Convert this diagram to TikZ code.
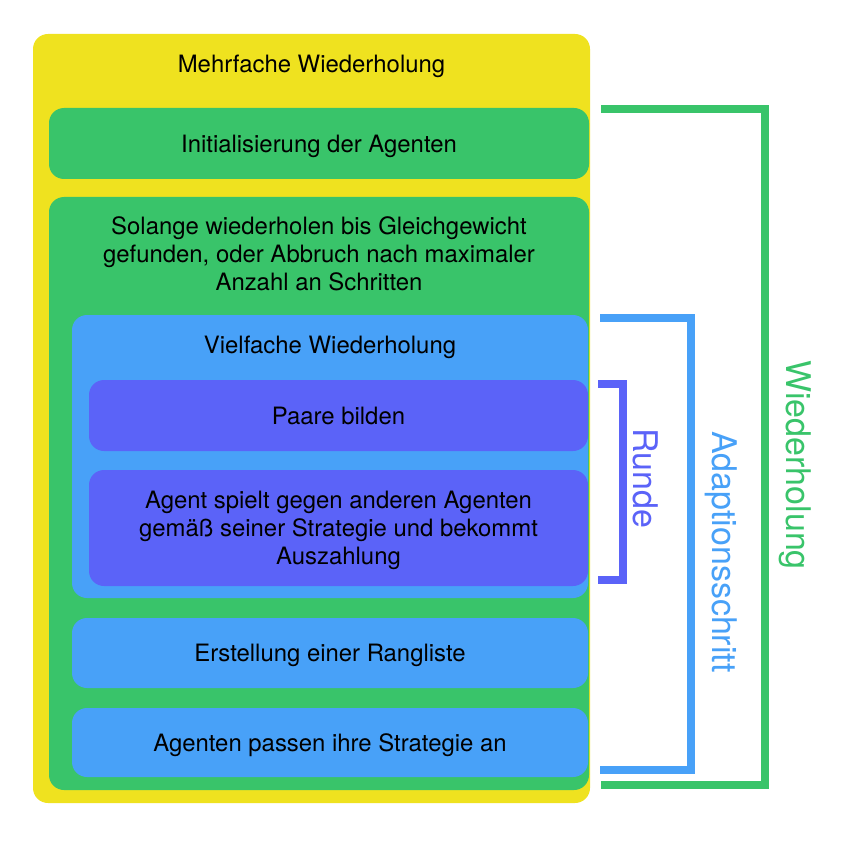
\documentclass[tikz,border=0pt]{standalone}
\usepackage{fontspec}
\setmainfont{TeX Gyre Heros}
\usetikzlibrary{positioning}

\definecolor{boxyellow}{RGB}{239,226,31}
\definecolor{boxgreen}{RGB}{57,196,106}
\definecolor{boxblue}{RGB}{72,161,248}
\definecolor{boxpurple}{RGB}{91,99,248}

\tikzset{
	box/.style={rectangle, rounded corners=15pt, inner sep=0pt, align=center, text depth=0pt,
		font=\fontsize{23.9}{28}\selectfont},
	title/.style={inner sep=0pt, align=center, text depth=0pt, font=\fontsize{23.9}{28}\selectfont},
	bracket/.style={line width=8pt, line cap=butt, line join=miter},
	sidelabel/.style={rotate=-90, inner sep=0pt, font=\fontsize{34}{40}\selectfont}
}

\begin{document}
\begin{tikzpicture}[x=1pt, y=-1pt]
		
		\useasboundingbox (0,0) rectangle (846,850);
		
		% Outer frame
		\node[box, fill=boxyellow, minimum width=557pt, minimum height=769pt] (outer) at (311.5,418.5) {};
		\node[title] (outertitle) at ([yshift=-30pt]outer.north) {Mehrfache Wiederholung};
		
		\node[box, fill=boxgreen, minimum width=540pt, minimum height=71pt] (init) at (319,143.5) {Initialisierung der Agenten};
		
		% Loop until equilibrium
		\node[box, fill=boxgreen, minimum width=540pt, minimum height=593pt] (loop) at (319,493.5) {};
		\node[title] (looptitle) at ([yshift=-57pt]loop.north) {Solange wiederholen bis Gleichgewicht\\gefunden, oder Abbruch nach maximaler\\Anzahl an Schritten};
		
		% Rounds
		\node[box, fill=boxblue, minimum width=516pt, minimum height=283pt] (rounds) at (330,456.5) {};
		\node[title] (roundstitle) at ([yshift=-30pt]rounds.north) {Vielfache Wiederholung};
		
		\node[box, fill=boxpurple, minimum width=499pt, minimum height=71pt] (pairs) at (338.5,415.5) {Paare bilden};
		\node[box, fill=boxpurple, minimum width=499pt, minimum height=116pt] (play) at (338.5,528) {Agent spielt gegen anderen Agenten\\gemäß seiner Strategie und bekommt\\Auszahlung};
		
		\node[box, fill=boxblue, minimum width=516pt, minimum height=70pt] (rank) at (330,653) {Erstellung einer Rangliste};
		\node[box, fill=boxblue, minimum width=516pt, minimum height=69pt] (adapt) at (330,742.5) {Agenten passen ihre Strategie an};
		
		% Brackets
		\coordinate (rtop) at (598,383.5);
		\coordinate (rbot) at (598,580);
		\draw[bracket, boxpurple] (rtop) -- (623,383.5) -- (623,580) -- (rbot);
		
		\coordinate (atop) at (600,318);
		\coordinate (abot) at (600,770);
		\draw[bracket, boxblue] (atop) -- (691,318) -- (691,770) -- (abot);
		
		\coordinate (wtop) at (601,109);
		\coordinate (wbot) at (601,785);
		\draw[bracket, boxgreen] (wtop) -- (765,109) -- (765,785) -- (wbot);
		
		% Labels
		\node[sidelabel, text=boxpurple] (runde) at (646,478) {Runde};
		\node[sidelabel, text=boxblue] (schritt) at (721,552) {Adaptionsschritt};
		\node[sidelabel, text=boxgreen] (wdh) at (795,465) {Wiederholung};
		
	\end{tikzpicture}
\end{document}
